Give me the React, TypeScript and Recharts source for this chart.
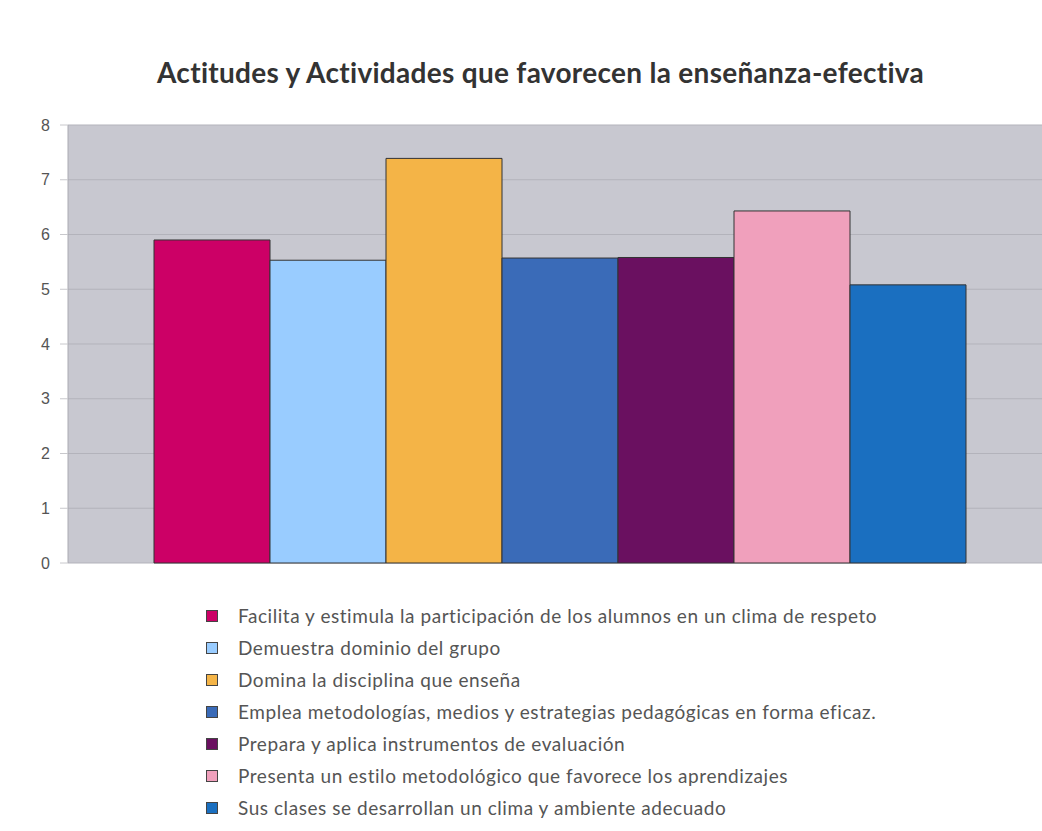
import { BarChart, Bar, XAxis, YAxis, CartesianGrid, Legend } from "recharts";

const categories = [
  "Facilita y estimula la participación de los alumnos en un clima de respeto",
  "Demuestra dominio del grupo",
  "Domina la disciplina que enseña",
  "Emplea metodologías, medios y estrategias pedagógicas en forma eficaz.",
  "Prepara y aplica instrumentos de evaluación",
  "Presenta un estilo metodológico que favorece los aprendizajes",
  "Sus clases se desarrollan un clima y ambiente adecuado",
];
const values = [5.9, 5.53, 7.39, 5.57, 5.58, 6.43, 5.08];
const colors = ["#cc0066", "#99ccff", "#f4b447", "#3a6bb8", "#6a1060", "#f0a0bc", "#1a6fc0"];
const yTicks = [0, 1, 2, 3, 4, 5, 6, 7, 8];

const row: Record<string, number | string> = { name: "" };
values.forEach((v, i) => {
  row["s" + i] = v;
});
const data = [row];

// keep legend in series order (recharts sorts by value by default)
const LegendList = () => (
  <ul style={{ listStyle: "none", margin: 0, padding: 0 }}>
    {categories.map((c, i) => (
      <li
        key={c}
        style={{
          height: 32,
          lineHeight: "32px",
          display: "flex",
          alignItems: "center",
          fontFamily: "Lato, sans-serif",
          fontSize: 19,
          letterSpacing: 0.55,
          color: "#555",
        }}
      >
        <span
          style={{
            display: "inline-block",
            width: 10,
            height: 10,
            background: colors[i],
            border: "1px solid #444",
            marginRight: 20,
          }}
        />
        {c}
      </li>
    ))}
  </ul>
);

export default function App() {
  return (
    <div style={{ position: "absolute", left: 0, top: 0, width: 1042, height: 831, background: "#fff", overflow: "hidden" }}>
      <div
        style={{
          position: "absolute",
          left: 157,
          top: 58,
          fontFamily: "Lato, sans-serif",
          fontWeight: 700,
          fontSize: 28,
          lineHeight: "28px",
          letterSpacing: 0.3,
          color: "#333",
          whiteSpace: "nowrap",
        }}
      >
        Actitudes y Actividades que favorecen la enseñanza-efectiva
      </div>
      <BarChart
        width={1042}
        height={831}
        data={data}
        margin={{ top: 125, right: -8, left: 0, bottom: 268 }}
        barCategoryGap={86}
        barGap={0}
      >
        <CartesianGrid vertical={false} stroke="#b3b3bb" fill="#c8c8d0" />
        <XAxis dataKey="name" hide />
        <YAxis
          width={68}
          domain={[0, 8]}
          ticks={yTicks}
          interval={0}
          axisLine={{ stroke: "#aaaab2" }}
          tickLine={{ stroke: "#c8c8cc" }}
          tickSize={8}
          tickMargin={10}
          tick={{ fill: "#555", fontSize: 16, fontFamily: "Liberation Sans, Arial, sans-serif" }}
        />
        {categories.map((c, i) => (
          <Bar
            key={c}
            dataKey={"s" + i}
            name={c}
            fill={colors[i]}
            stroke="#333"
            strokeWidth={1}
            isAnimationActive={false}
          />
        ))}
        <Legend
          layout="horizontal"
          verticalAlign="middle"
          align="center"
          content={LegendList}
          wrapperStyle={{ left: 206, top: 600, width: "auto" }}
        />
      </BarChart>
    </div>
  );
}
